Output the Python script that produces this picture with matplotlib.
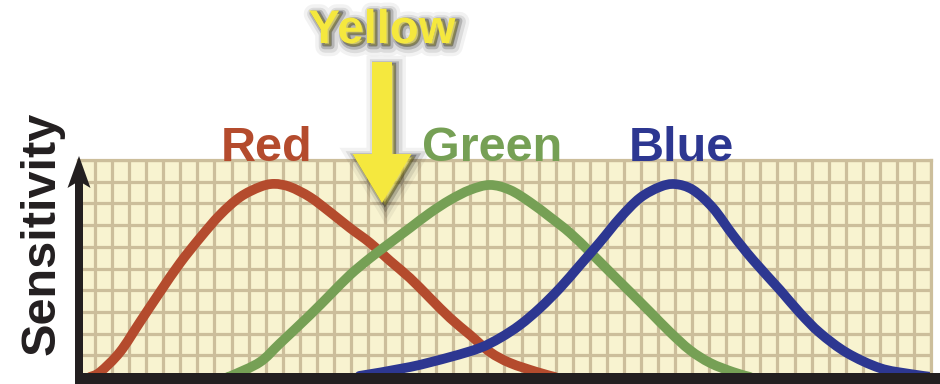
import matplotlib
matplotlib.use('Agg')
import matplotlib.pyplot as plt
import matplotlib.patheffects as pe
from matplotlib.patches import Rectangle, Polygon, FancyArrow, PathPatch
from matplotlib.path import Path
import numpy as np

# grid units: 50 columns, 10 rows
red_x = [0.7, 1.3, 2.46, 3.63, 4.81, 5.98, 7.15, 8.32, 9.5, 10.67, 11.5, 12.43, 13.6, 14.77, 15.94,
         17.12, 18.29, 19.46, 20.63, 21.81, 22.98, 24.15, 25.32, 26.9, 27.96]
red_y = [0.0, 0.23, 1.15, 2.53, 3.92, 5.25, 6.41, 7.47, 8.29, 8.76, 8.9, 8.76, 8.29, 7.6, 6.87,
         6.18, 5.35, 4.56, 3.64, 2.72, 1.94, 1.15, 0.65, 0.23, 0.0]

green_x = [8.79, 9.09, 10.67, 11.84, 13.6, 14.77, 15.94, 17.12, 18.29, 19.46, 20.63, 21.81, 22.98,
           24.15, 25.32, 26.49, 27.67, 28.84, 30.01, 31.18, 32.36, 33.53, 34.7, 35.87, 37.05, 38.39, 39.39]
green_y = [0.0, 0.09, 0.69, 1.55, 2.86, 3.78, 4.7, 5.48, 6.18, 6.87, 7.56, 8.16, 8.62,
           8.85, 8.62, 8.06, 7.37, 6.64, 5.76, 4.84, 3.92, 3.0, 2.07, 1.24, 0.65, 0.23, 0.0]

blue_x = [16.5, 19.46, 21.81, 23.56, 24.74, 25.91, 27.08, 28.25, 29.43, 30.6, 31.77, 32.94, 34.11,
          35.0, 36.05, 37.22, 38.39, 39.57, 41.15, 42.32, 43.49, 45.08, 47.01, 48.77, 50.06]
blue_y = [0.05, 0.46, 0.92, 1.34, 1.8, 2.4, 3.18, 4.1, 5.16, 6.22, 7.33, 8.25, 8.76,
          8.89, 8.62, 7.79, 6.54, 5.39, 4.01, 2.95, 2.03, 1.11, 0.41, 0.14, 0.0]

labels = ['Red', 'Green', 'Blue']
colors = ['#b44b2d', '#76a055', '#2d3791']
label_x = [267, 492, 681]   # pixel centres over the peaks

FONT = 'Liberation Sans'
AXIS_COLOR = '#231f20'
YELLOW = '#f5e83e'


def smooth_path(xs, ys):
    # catmull-rom through the read points, drawn as bezier segments
    pts = np.column_stack([xs, ys])
    verts = [pts[0]]
    codes = [Path.MOVETO]
    n = len(pts)
    for i in range(n - 1):
        p0 = pts[i - 1] if i > 0 else pts[i]
        p1, p2 = pts[i], pts[i + 1]
        p3 = pts[i + 2] if i + 2 < n else pts[i + 1]
        verts += [p1 + (p2 - p0) / 6, p2 - (p3 - p1) / 6, p2]
        codes += [Path.CURVE4] * 3
    return Path(verts, codes)


fig = plt.figure(figsize=(9.4, 3.84), dpi=100)
fig.patch.set_facecolor('white')

# ---- grid panel ----
ax = fig.add_axes([78 / 940, 7 / 384, 853 / 940, 217 / 384])
ax.set_facecolor('#f8f3d0')
ax.set_xlim(0, 50)
ax.set_ylim(0, 10)
ax.set_xticks(np.arange(0, 51))
ax.set_yticks(np.arange(0, 11))
ax.grid(True, color='#ccbe9b', linewidth=2.3)
ax.set_axisbelow(True)
ax.tick_params(length=0, labelbottom=False, labelleft=False)
for sp in ax.spines.values():
    sp.set_color('#ccbe9b')
    sp.set_linewidth(2.3)

for xs, ys, c in zip([red_x, green_x, blue_x], [red_y, green_y, blue_y], colors):
    ax.add_patch(PathPatch(smooth_path(xs, ys), fill=False, edgecolor=c, lw=7,
                           capstyle='round', joinstyle='round'))

# ---- overlay in pixel coords for decorations ----
ov = fig.add_axes([0, 0, 1, 1], zorder=5)
ov.set_xlim(0, 940)
ov.set_ylim(384, 0)
ov.axis('off')

# axes: bottom bar and vertical arrow
ov.add_patch(Rectangle((74.5, 373), 866, 12, color=AXIS_COLOR, lw=0))
ov.add_patch(Rectangle((75, 180), 8, 200, color=AXIS_COLOR, lw=0))
ov.add_patch(Polygon([(79, 156), (67.5, 188), (79, 181), (90.5, 188)], closed=True,
                     color=AXIS_COLOR, lw=0))

ov.text(42, 233, 'Sensitivity', rotation=90, ha='center', va='center',
        fontsize=35, fontweight='bold', family=FONT, color=AXIS_COLOR)

for lab, c, lx in zip(labels, colors, label_x):
    ov.text(lx, 161, lab, ha='center', va='baseline', fontsize=35,
            fontweight='bold', family=FONT, color=c)

glow = [pe.Stroke(linewidth=14, foreground='black', alpha=0.05, offset=(3, -2.5)),
        pe.Stroke(linewidth=9, foreground='black', alpha=0.09, offset=(3, -2.5)),
        pe.Stroke(linewidth=5, foreground='black', alpha=0.18, offset=(2.5, -2)),
        pe.Stroke(linewidth=2, foreground='black', alpha=0.3, offset=(2, -1.5)),
        pe.Normal()]

ov.text(382, 43, 'Yellow', ha='center', va='baseline', fontsize=34,
        fontweight='bold', family=FONT, color=YELLOW, path_effects=glow)

arrow = FancyArrow(382, 62, 0, 141, width=20, head_width=59, head_length=49,
                   length_includes_head=True, color=YELLOW, lw=0)
arrow.set_path_effects(glow)
ov.add_patch(arrow)

fig.savefig('out.png', dpi=100, facecolor='white')
